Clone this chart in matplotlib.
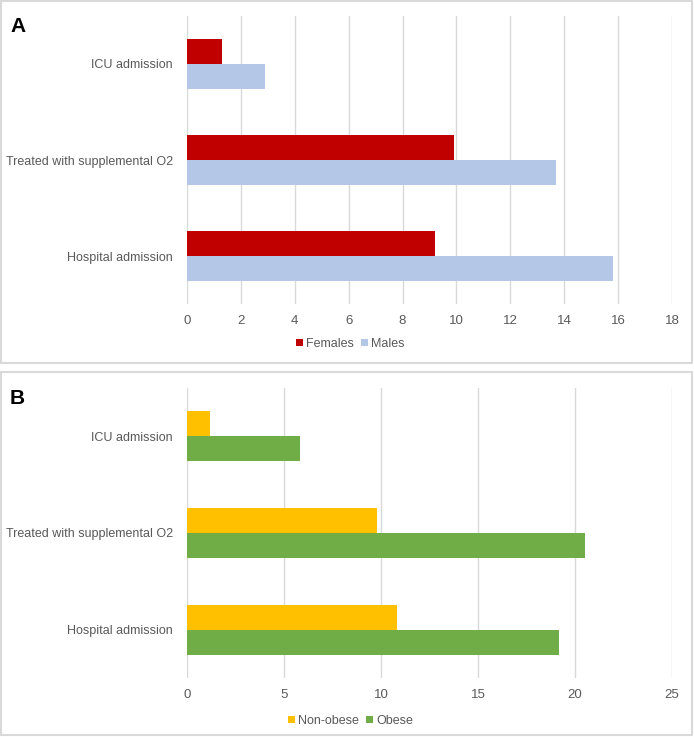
import numpy as np
import matplotlib
matplotlib.use("Agg")
import matplotlib.pyplot as plt
from matplotlib.patches import Rectangle

plt.rcParams['font.family'] = ['Liberation Sans', 'DejaVu Sans']

categories = ["Hospital admission", "Treated with supplemental O2", "ICU admission"]

# panel A
females = [9.2, 9.9, 1.3]
males = [15.8, 13.7, 2.9]
ticks_a = [0, 2, 4, 6, 8, 10, 12, 14, 16, 18]

# panel B
non_obese = [10.8, 9.8, 1.2]
obese = [19.2, 20.5, 5.8]
ticks_b = [0, 5, 10, 15, 20, 25]

W, H = 694, 737
fig = plt.figure(figsize=(W / 100, H / 100), dpi=100)


def box(x0, y0, x1, y1):
    # pixel coords from top-left
    r = Rectangle((x0 / W, 1 - y1 / H), (x1 - x0) / W, (y1 - y0) / H,
                  transform=fig.transFigure, fill=False, edgecolor="#d9d9d9", lw=1.5)
    fig.patches.append(r)


def panel(top, bottom, s1, s2, c1, c2, names, ticks, label, leg_y):
    ax = fig.add_axes([187 / W, 1 - bottom / H, (672 - 187) / W, (bottom - top) / H])
    y = np.arange(len(categories))
    h = 0.26
    ax.barh(y + h / 2, s1, height=h, color=c1, label=names[0], zorder=3)
    ax.barh(y - h / 2, s2, height=h, color=c2, label=names[1], zorder=3)
    ax.set_xlim(ticks[0], ticks[-1])
    ax.set_ylim(-0.5, 2.5)
    ax.set_xticks(ticks)
    ax.set_yticks(y)
    ax.set_yticklabels(categories, fontsize=9)
    ax.grid(axis="x", color="#d9d9d9", lw=1, zorder=0)
    for s in ax.spines.values():
        s.set_visible(False)
    ax.tick_params(length=0, colors="#595959")
    ax.tick_params(axis="x", pad=8, labelsize=9.5)
    ax.tick_params(axis="y", pad=10)
    fig.text(10 / W, 1 - (top + 10) / H, label, fontsize=15, fontweight="bold", va="center")
    fig.legend(*ax.get_legend_handles_labels(), loc="center", bbox_to_anchor=(0.505, leg_y),
               ncol=2, frameon=False, handlelength=0.55, handleheight=0.55, handletextpad=0.25,
               columnspacing=0.6, fontsize=9, labelcolor="#595959")
    return ax


box(1, 1, 692, 363)
box(1, 372, 692, 735)
panel(16, 304, females, males, "#c00000", "#b4c7e7", ["Females", "Males"], ticks_a, "A", 1 - 344 / H)
panel(388, 678, non_obese, obese, "#ffc000", "#70ad47", ["Non-obese", "Obese"], ticks_b, "B", 1 - 721 / H)

fig.savefig("out.png", dpi=100)
